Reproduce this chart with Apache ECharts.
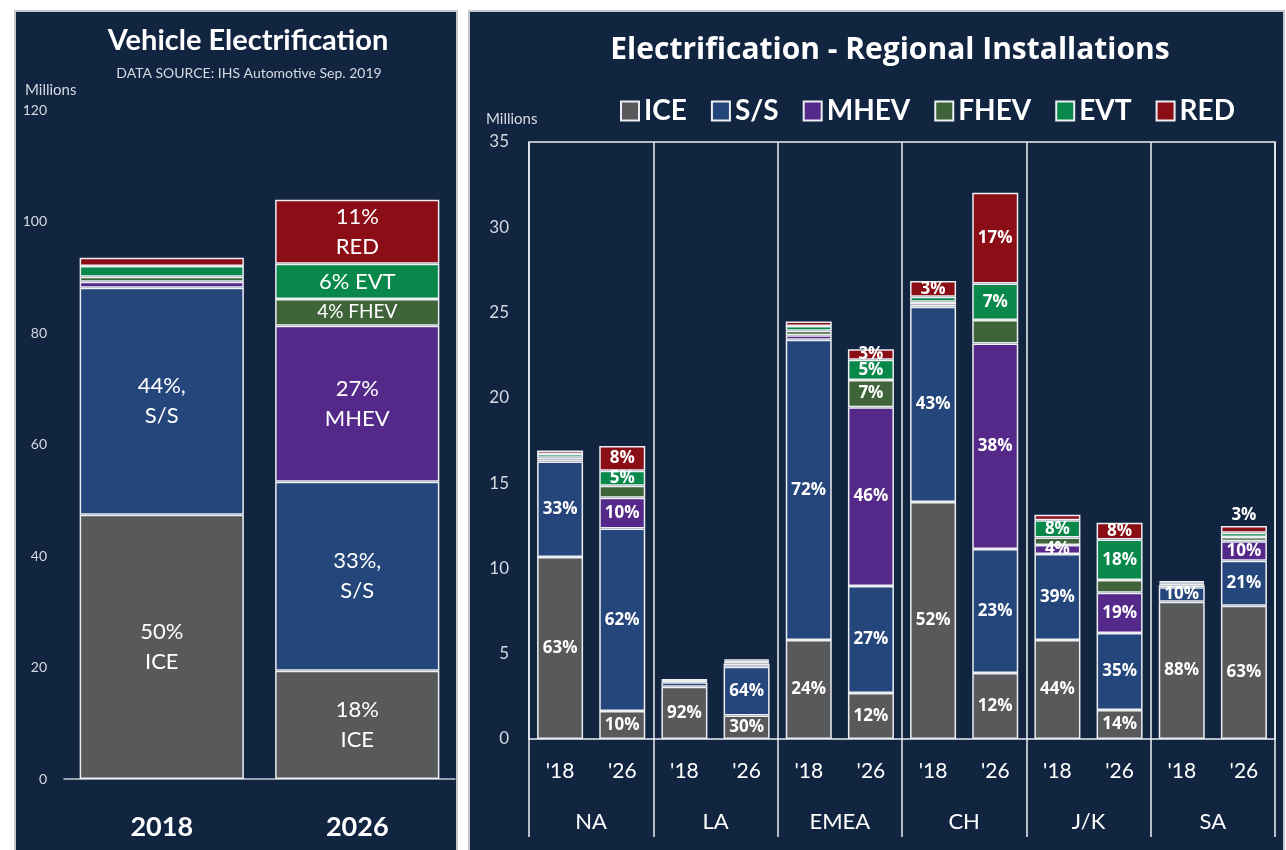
<!DOCTYPE html>
<html>
<head>
<meta charset="utf-8">
<script src="https://cdn.jsdelivr.net/npm/echarts@6/dist/echarts.min.js"></script>
<style>
  html, body { margin: 0; background: #ffffff; }
  #chart { width: 1286px; height: 850px; }
</style>
</head>
<body>
<div id="chart"></div>
<script>
// series names + colours shared by both charts
const seriesNames = ['ICE', 'S/S', 'MHEV', 'FHEV', 'EVT', 'RED'];
const palette = ['#58595b', '#25467b', '#55298a', '#3f6439', '#08894b', '#8b0d16'];

// left chart: global totals (millions)
const years = ['2018', '2026'];
const globalIce = [47.4, 19.4];
const globalSS = [40.7, 33.9];
const globalMhev = [1.1, 28.0];
const globalFhev = [0.9, 4.8];
const globalEvt = [1.9, 6.3];
const globalRed = [1.5, 11.5];
const globalIceLbl = ['50%\nICE', '18%\nICE'];
const globalSSLbl = ['44%,\nS/S', '33%,\nS/S'];
const globalMhevLbl = ['', '27%\nMHEV'];
const globalFhevLbl = ['', '4% FHEV'];
const globalEvtLbl = ['', '6% EVT'];
const globalRedLbl = ['', '11%\nRED'];

// right chart: regional installations (millions)
const regions = ['NA', 'LA', 'EMEA', 'CH', 'J/K', 'SA'];
const yearTicks = ["'18", "'26"];
const regIce  = [10.67, 1.64, 3.07, 1.38, 5.8, 2.7, 13.9, 3.87, 5.8, 1.7, 8.05, 7.81];
const regSS   = [5.6, 10.7, 0.25, 2.85, 17.6, 6.27, 11.44, 7.27, 5.05, 4.51, 0.85, 2.64];
const regMhev = [0.12, 1.8, 0.06, 0.2, 0.27, 10.48, 0.14, 12.05, 0.53, 2.37, 0.12, 1.15];
const regFhev = [0.1, 0.7, 0.04, 0.08, 0.27, 1.6, 0.15, 1.37, 0.44, 0.74, 0.08, 0.24];
const regEvt  = [0.22, 0.88, 0.04, 0.08, 0.27, 1.18, 0.3, 2.15, 1.0, 2.38, 0.08, 0.25];
const regRed  = [0.2, 1.46, 0.04, 0.08, 0.27, 0.62, 0.92, 5.31, 0.33, 0.98, 0.08, 0.4];
const regIceLbl  = ['63%', '10%', '92%', '30%', '24%', '12%', '52%', '12%', '44%', '14%', '88%', '63%'];
const regSSLbl   = ['33%', '62%', '', '64%', '72%', '27%', '43%', '23%', '39%', '35%', '10%', '21%'];
const regMhevLbl = ['', '10%', '', '', '', '46%', '', '38%', '4%', '19%', '', '10%'];
const regFhevLbl = ['', '', '', '', '', '7%', '', '', '', '', '', ''];
const regEvtLbl  = ['', '5%', '', '', '', '5%', '', '7%', '8%', '18%', '', ''];
const regRedLbl  = ['', '8%', '', '', '', '3%', '3%', '17%', '', '8%', '', '3%'];

const navy = '#112440';
const edge = '#eceef2';
const soft = '#d6dae1';

const barCats = [];
regions.forEach(r => yearTicks.forEach(y => barCats.push(r + '|' + y)));

const leftVals = [globalIce, globalSS, globalMhev, globalFhev, globalEvt, globalRed];
const leftLbls = [globalIceLbl, globalSSLbl, globalMhevLbl, globalFhevLbl, globalEvtLbl, globalRedLbl];
const rightVals = [regIce, regSS, regMhev, regFhev, regEvt, regRed];
const rightLbls = [regIceLbl, regSSLbl, regMhevLbl, regFhevLbl, regEvtLbl, regRedLbl];

const series = [];
seriesNames.forEach((name, i) => {
  series.push({
    name: name,
    type: 'bar',
    stack: 'global',
    xAxisIndex: 0,
    yAxisIndex: 0,
    barWidth: '84%',
    itemStyle: { color: palette[i], borderColor: edge, borderWidth: 1.5 },
    label: {
      show: true,
      position: 'inside',
      color: '#ffffff',
      fontFamily: 'Lato',
      fontSize: 22,
      lineHeight: 30,
      formatter: p => leftLbls[i][p.dataIndex]
    },
    data: leftVals[i].map((v, k) =>
      (name === 'FHEV' && k === 1) ? { value: v, label: { fontSize: 19 } } : v)
  });
});
seriesNames.forEach((name, i) => {
  series.push({
    name: name,
    type: 'bar',
    stack: 'region',
    xAxisIndex: 1,
    yAxisIndex: 1,
    barWidth: '74%',
    itemStyle: { color: palette[i], borderColor: edge, borderWidth: 1.5 },
    label: {
      show: true,
      position: 'inside',
      color: '#ffffff',
      fontFamily: 'Open Sans',
      fontWeight: 'bold',
      fontSize: 17,
      formatter: p => rightLbls[i][p.dataIndex]
    },
    data: rightVals[i].map((v, k) =>
      (name === 'RED' && k === barCats.length - 1)
        ? { value: v, label: { position: 'top', distance: 2 } } : v)
  });
});

function txt(text, x, y, font, color, align) {
  return {
    type: 'text', z: 50,
    style: {
      text: text, x: x, y: y, font: font, fill: color || '#ffffff',
      textAlign: align || 'center', textVerticalAlign: 'middle',
      align: align || 'center', verticalAlign: 'middle'
    }
  };
}

const chart = echarts.init(document.getElementById('chart'));
chart.setOption({
  backgroundColor: '#ffffff',
  animation: false,
  graphic: [
    { type: 'rect', z: -10, shape: { x: 15, y: 11, width: 442, height: 850 },
      style: { fill: navy, stroke: '#c3c7ce', lineWidth: 2 } },
    { type: 'rect', z: -10, shape: { x: 469, y: 11, width: 815, height: 850 },
      style: { fill: navy, stroke: '#c3c7ce', lineWidth: 2 } },
    txt('Vehicle Electrification', 248, 41, 'bold 29px Lato'),
    txt('DATA SOURCE: IHS Automotive Sep. 2019', 249, 73, '14px Lato', soft),
    txt('Millions', 25, 90, '15px Lato', soft, 'left'),
    txt('Electrification - Regional Installations', 890, 50, 'bold 30px "Open Sans"'),
    txt('Millions', 486, 119, '15px Lato', soft, 'left')
  ],
  legend: {
    data: seriesNames,
    left: 615,
    top: 92,
    icon: 'rect',
    itemWidth: 18,
    itemHeight: 19,
    itemGap: 24,
    textStyle: { color: '#ffffff', fontFamily: 'Lato', fontWeight: 'bold', fontSize: 28 }
  },
  grid: [
    { left: 64, right: 831, top: 110, bottom: 71 },
    { left: 529, right: 11, top: 142, bottom: 111, show: true,
      borderColor: edge, borderWidth: 1.5, backgroundColor: 'transparent' }
  ],
  xAxis: [
    {
      type: 'category', gridIndex: 0, data: years,
      axisLine: { lineStyle: { color: '#c9ccd2', width: 1.5 } },
      axisTick: { show: false },
      axisLabel: { color: '#ffffff', fontFamily: 'Lato', fontWeight: 'bold', fontSize: 27, margin: 35 }
    },
    {
      type: 'category', gridIndex: 1, data: barCats,
      axisLine: { show: false },
      axisTick: { show: false },
      axisLabel: {
        color: '#ffffff', fontFamily: 'Lato', fontSize: 21, margin: 22, interval: 0,
        formatter: v => v.split('|')[1]
      }
    },
    {
      type: 'category', gridIndex: 1, data: regions, position: 'bottom',
      axisLine: { show: false },
      axisTick: { show: true, interval: 0, length: 98, lineStyle: { color: edge, width: 1.5 } },
      splitLine: { show: true, interval: 0, lineStyle: { color: edge, width: 1.5 } },
      axisLabel: { color: '#ffffff', fontFamily: 'Lato', fontSize: 22, margin: 72, interval: 0 }
    }
  ],
  yAxis: [
    {
      type: 'value', gridIndex: 0, min: 0, max: 120, interval: 20,
      axisLine: { show: false }, axisTick: { show: false }, splitLine: { show: false },
      axisLabel: { color: soft, fontFamily: 'Lato', fontSize: 14, margin: 17 }
    },
    {
      type: 'value', gridIndex: 1, min: 0, max: 35, interval: 5,
      axisLine: { show: false }, axisTick: { show: false }, splitLine: { show: false },
      axisLabel: { color: soft, fontFamily: 'Lato', fontSize: 17, margin: 20 }
    }
  ],
  series: series
});
</script>
</body>
</html>
